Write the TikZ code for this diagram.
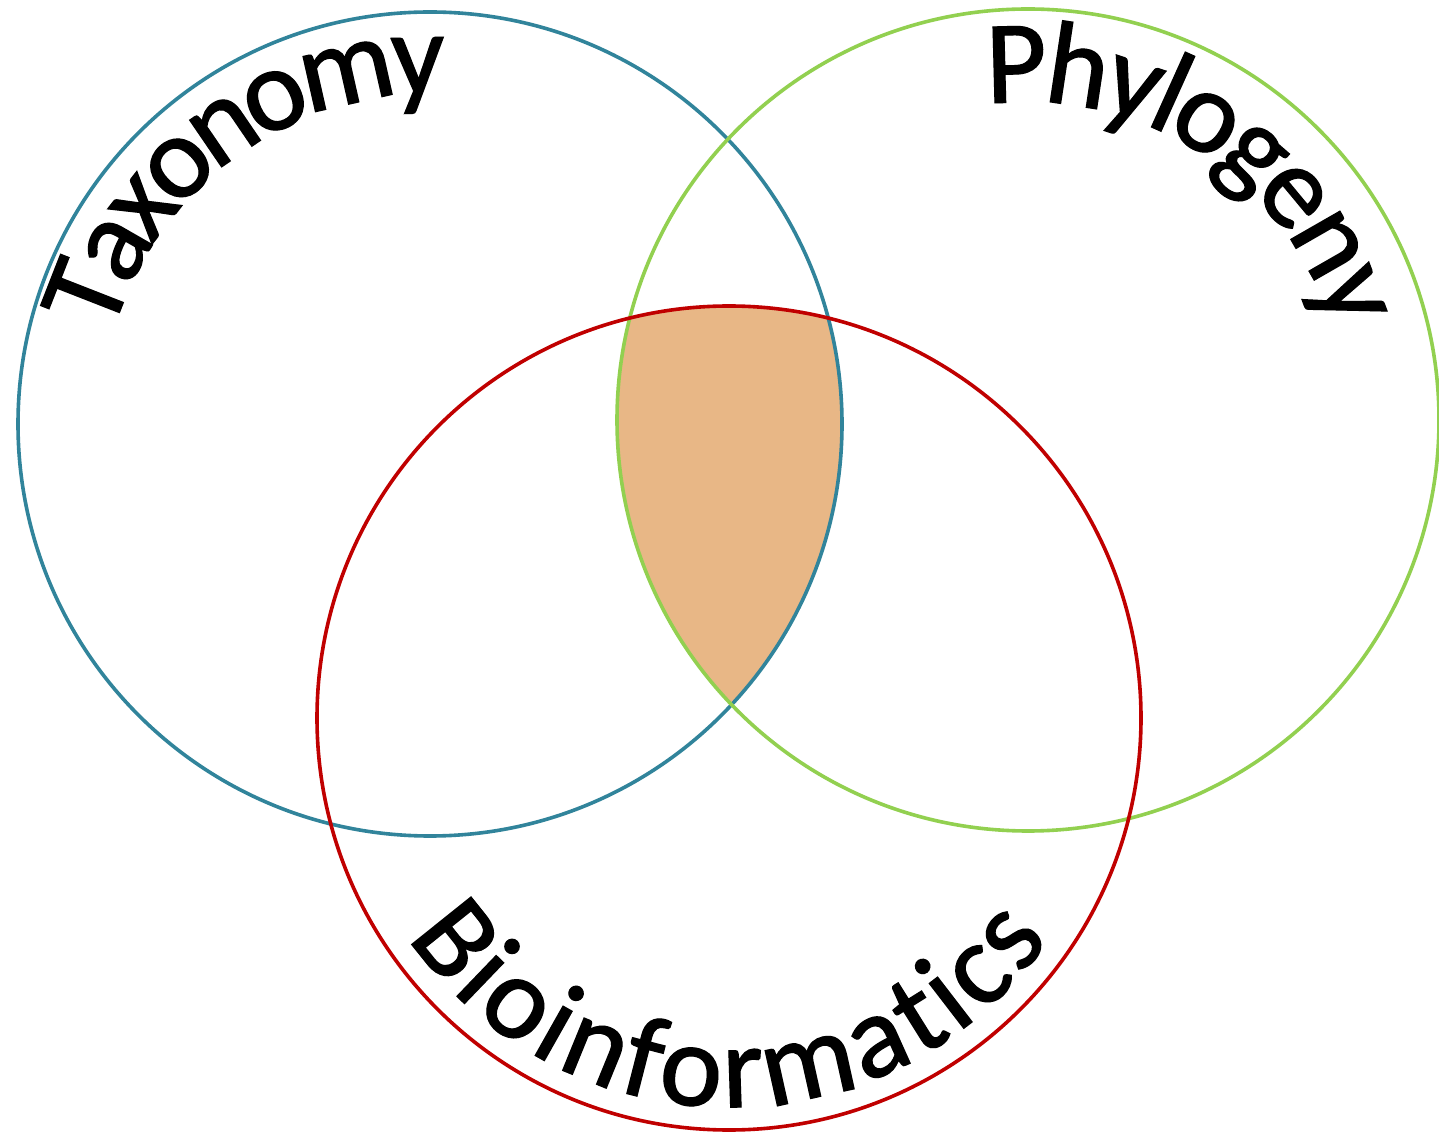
\documentclass[tikz,border=0pt]{standalone}
\usepackage{fontspec}
\setmainfont{Carlito}
\newfontfamily\arcfam[FakeBold=1.2]{Carlito}
\usetikzlibrary{decorations.text,calc}
\definecolor{taxblue}{HTML}{31849B}
\definecolor{phygreen}{HTML}{92D050}
\definecolor{bioRed}{HTML}{C00000}
\definecolor{coreTan}{HTML}{E8B786}
\newcommand{\bigfont}{\arcfam\fontsize{118}{118}\selectfont}
\begin{document}
\begin{tikzpicture}[x=1pt,y=1pt,
  ring/.style={line width=3.6pt},
  arctext/.style={decorate, decoration={text along path, text align=center, text color=black, text={#1}}},
  arcshadow/.style={decorate, decoration={text along path, text align=center, text color=black!22, text={#1}}, shift={(3,-3)}}]
\useasboundingbox[fill=white] (0,0) rectangle (1439,1133);
\coordinate (T) at (430,709);
\coordinate (P) at (1028,713);
\coordinate (B) at (729,415);
\begin{scope}
  \clip (T) circle[radius=412];
  \clip (P) circle[radius=411];
  \fill[coreTan] (B) circle[radius=412];
\end{scope}
\draw[ring, taxblue] (T) circle[radius=412];
\draw[ring, phygreen] (P) circle[radius=411];
\draw[ring, bioRed] (B) circle[radius=412];
% Taxonomy
\path[arcshadow={|\bigfont\kern-8pt|Taxonomy}] ($(T)+(180.15:330)$) arc[start angle=180.15, end angle=70.15, radius=330];
\path[arctext={|\bigfont\kern-8pt|Taxonomy}] ($(T)+(180.15:330)$) arc[start angle=180.15, end angle=70.15, radius=330];
% Phylogeny
\path[arcshadow={|\bigfont\kern-5.5pt|Phylogeny}] ($(P)+(111.3:318)$) arc[start angle=111.3, end angle=1.3, radius=318];
\path[arctext={|\bigfont\kern-5.5pt|Phylogeny}] ($(P)+(111.3:318)$) arc[start angle=111.3, end angle=1.3, radius=318];
% Bioinformatics
\path[arcshadow={|\bigfont\kern4.5pt|Bioinformatics}] ($(B)+(199.5:389)$) arc[start angle=199.5, end angle=339.5, radius=389];
\path[arctext={|\bigfont\kern4.5pt|Bioinformatics}] ($(B)+(199.5:389)$) arc[start angle=199.5, end angle=339.5, radius=389];
\end{tikzpicture}
\end{document}
